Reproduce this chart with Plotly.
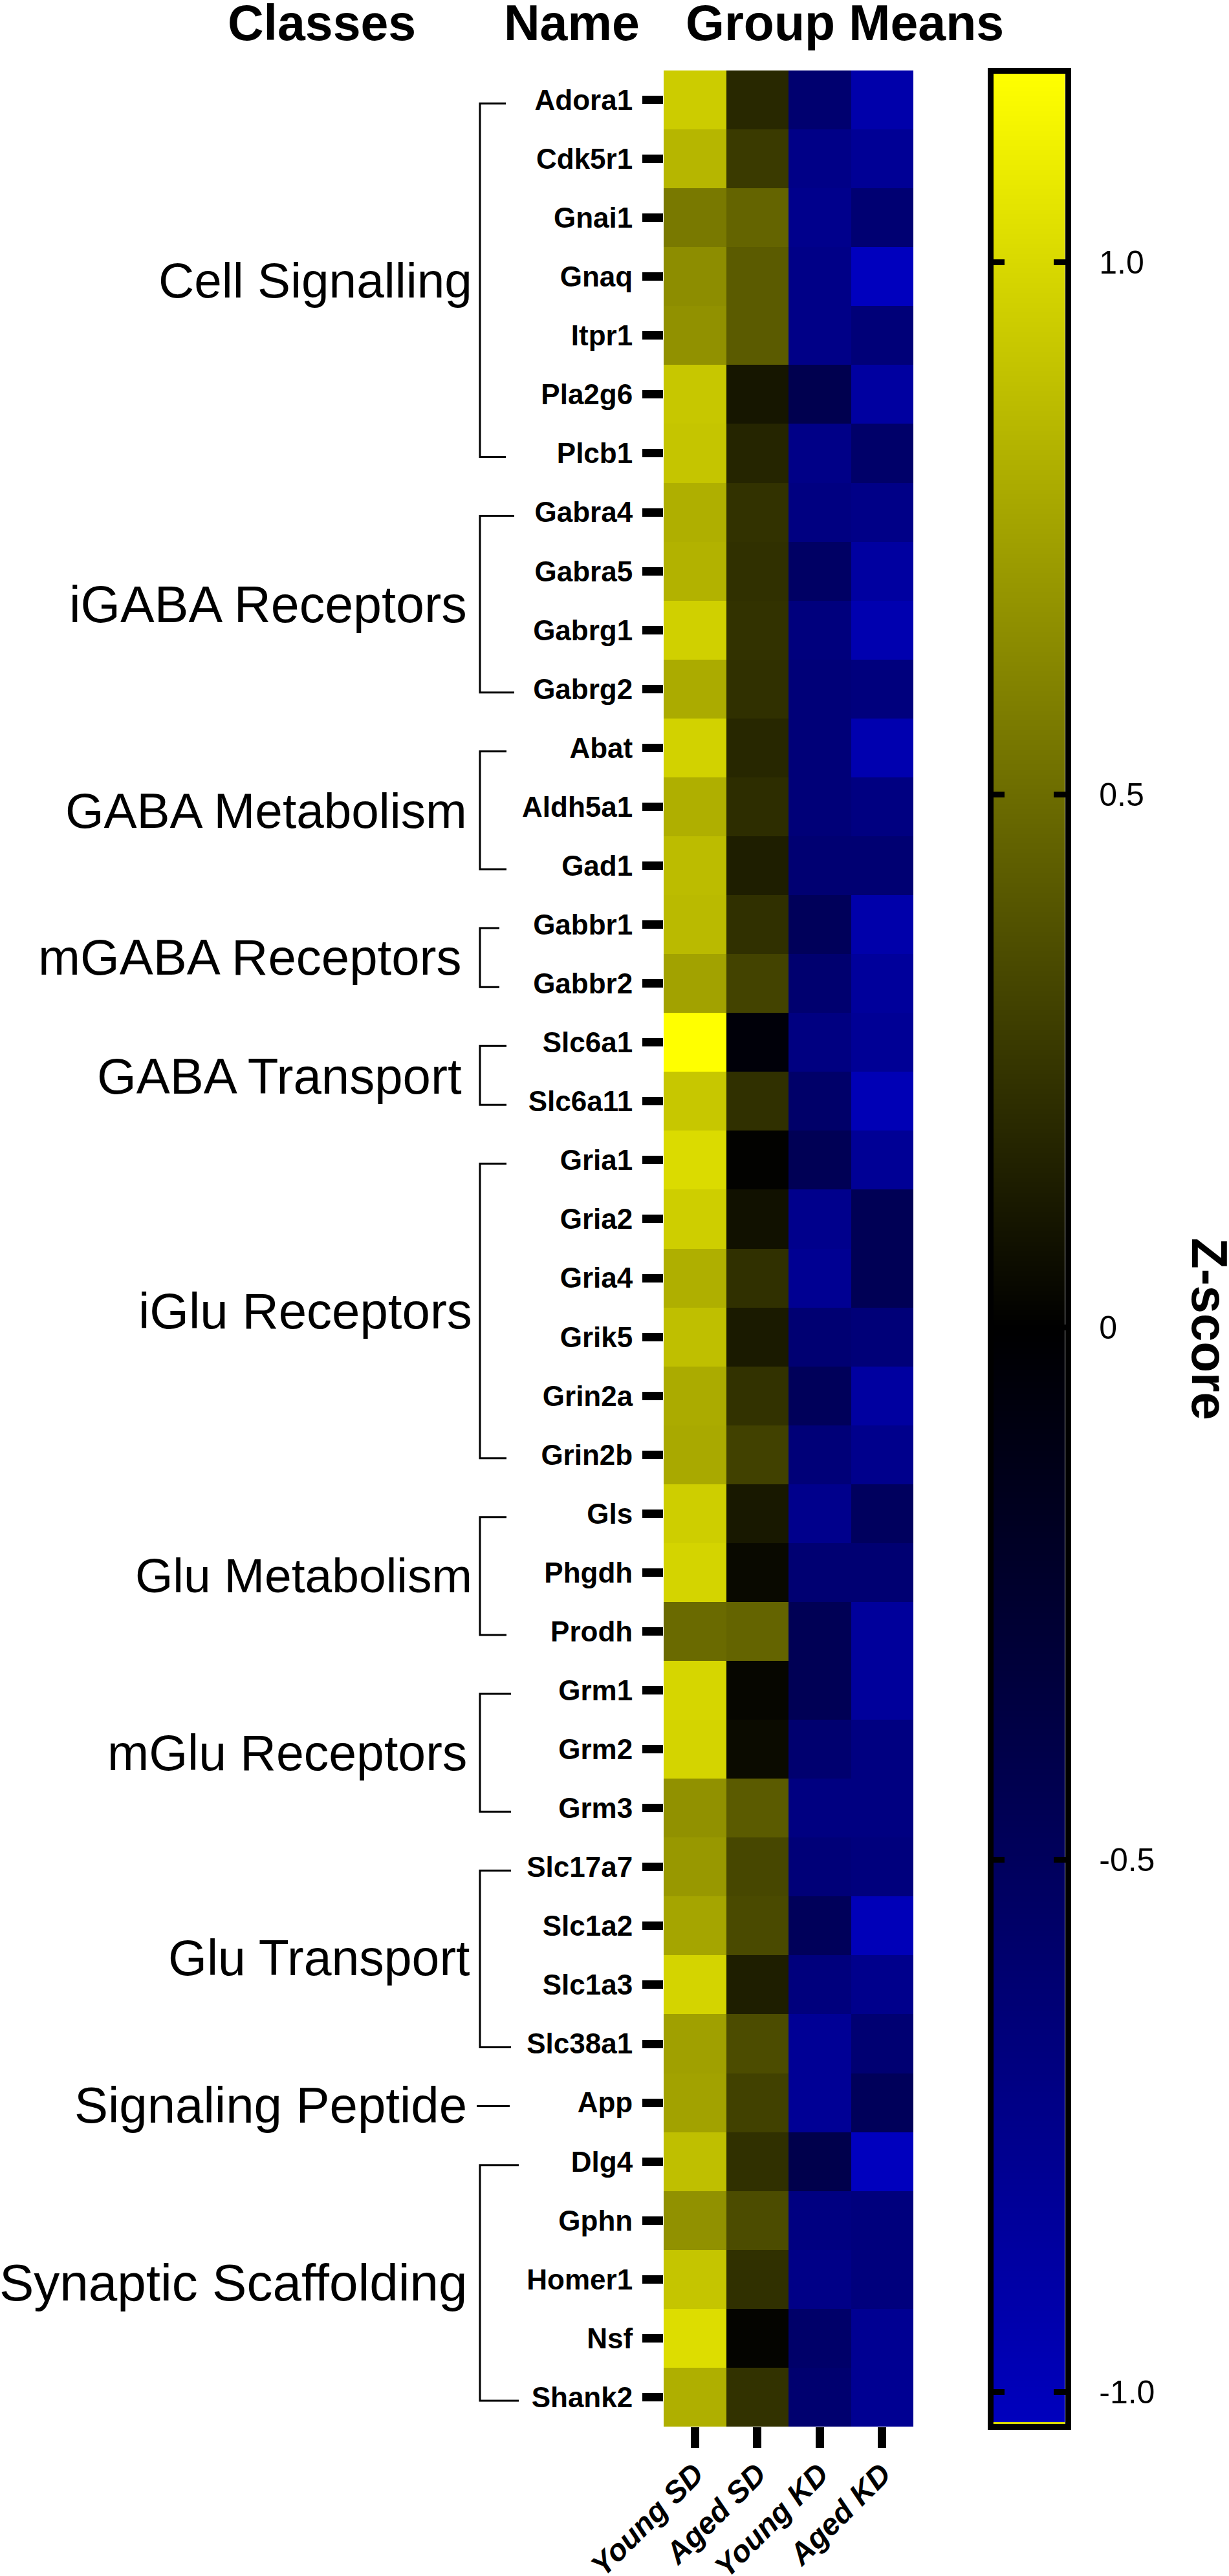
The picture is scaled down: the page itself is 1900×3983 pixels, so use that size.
import plotly.graph_objects as go

# =============================================
# Data
# =============================================
genes = ['Adora1', 'Cdk5r1', 'Gnai1', 'Gnaq', 'Itpr1', 'Pla2g6', 'Plcb1',
         'Gabra4', 'Gabra5', 'Gabrg1', 'Gabrg2',
         'Abat', 'Aldh5a1', 'Gad1',
         'Gabbr1', 'Gabbr2',
         'Slc6a1', 'Slc6a11',
         'Gria1', 'Gria2', 'Gria4', 'Grik5', 'Grin2a', 'Grin2b',
         'Gls', 'Phgdh', 'Prodh',
         'Grm1', 'Grm2', 'Grm3',
         'Slc17a7', 'Slc1a2', 'Slc1a3', 'Slc38a1',
         'App',
         'Dlg4', 'Gphn', 'Homer1', 'Nsf', 'Shank2']
groups = ['Young SD', 'Aged SD', 'Young KD', 'Aged KD']

young_sd = [0.94, 0.84, 0.56, 0.65, 0.67, 0.92, 0.91,
            0.81, 0.82, 0.96, 0.79,
            0.97, 0.81, 0.87,
            0.86, 0.75,
            1.177, 0.92,
            1.01, 0.95, 0.81, 0.88, 0.79, 0.78,
            0.95, 0.98, 0.49,
            0.99, 0.98, 0.67,
            0.70, 0.76, 0.98, 0.74,
            0.75,
            0.88, 0.67, 0.91, 1.02, 0.81]
aged_sd = [0.185, 0.27, 0.46, 0.42, 0.42, 0.10, 0.17,
           0.23, 0.22, 0.23, 0.22,
           0.18, 0.21, 0.14,
           0.22, 0.31,
           -0.05, 0.22,
           0.01, 0.08, 0.22, 0.12, 0.23, 0.30,
           0.11, 0.04, 0.46,
           0.03, 0.05, 0.42,
           0.33, 0.34, 0.14, 0.35,
           0.30,
           0.22, 0.35, 0.22, 0.02, 0.23]
young_kd = [-0.60, -0.73, -0.76, -0.73, -0.73, -0.43, -0.73,
            -0.70, -0.54, -0.68, -0.65,
            -0.65, -0.65, -0.62,
            -0.49, -0.60,
            -0.70, -0.57,
            -0.46, -0.76, -0.79, -0.62, -0.49, -0.65,
            -0.76, -0.62, -0.46,
            -0.46, -0.60, -0.70,
            -0.65, -0.49, -0.68, -0.81,
            -0.81,
            -0.41, -0.70, -0.73, -0.57, -0.60]
aged_kd = [-0.92, -0.81, -0.62, -1.03, -0.65, -0.87, -0.57,
           -0.73, -0.87, -0.95, -0.68,
           -0.95, -0.70, -0.62,
           -0.92, -0.84,
           -0.81, -0.98,
           -0.81, -0.46, -0.46, -0.65, -0.87, -0.76,
           -0.51, -0.62, -0.84,
           -0.84, -0.70, -0.70,
           -0.68, -1.00, -0.76, -0.62,
           -0.49,
           -1.03, -0.68, -0.68, -0.79, -0.79]

classes = ['Cell Signalling', 'iGABA Receptors', 'GABA Metabolism', 'mGABA Receptors',
           'GABA Transport', 'iGlu Receptors', 'Glu Metabolism', 'mGlu Receptors',
           'Glu Transport', 'Signaling Peptide', 'Synaptic Scaffolding']
class_first = ['Adora1', 'Gabra4', 'Abat', 'Gabbr1', 'Slc6a1', 'Gria1', 'Gls', 'Grm1', 'Slc17a7', 'App', 'Dlg4']
class_last = ['Plcb1', 'Gabrg2', 'Gad1', 'Gabbr2', 'Slc6a11', 'Grin2b', 'Prodh', 'Grm3', 'Slc38a1', 'App', 'Shank2']

scale_min = -1.03
scale_max = 1.177
scale_ticks = [-1.0, -0.5, 0, 0.5, 1.0]
scale_labels = ['-1.0', '-0.5', '0', '0.5', '1.0']

# =============================================
# Page layout, in pixels of the picture
# =============================================
W, H = 1900, 3983
FONT = 'Liberation Sans'
class_right = [732, 724, 724, 716, 716, 732, 732, 724, 728, 724, 724]
class_base = [459, 960, 1279, 1506, 1690, 2053, 2462, 2736, 3053, 3281, 3555]
class_size = [76.5, 79, 76.5, 78, 78, 78, 75, 77, 77, 78, 80]
bracket_right = [782, 795, 783, 772, 783, 783, 783, 790, 790, 788, 802]
BRACKET_X = 742
BRACKET_SHIFT = 0.06  # brackets sit a little under the row centres


def px(x):
    return x / W


def py(y):
    return 1 - y / H


rows = list(range(len(genes)))
colorscale = [[0, 'rgb(0,0,190)'],
              [-scale_min / (scale_max - scale_min), 'rgb(0,0,0)'],
              [1, 'rgb(255,255,0)']]

fig = go.Figure()

# Heatmap of group means
fig.add_trace(go.Heatmap(
    z=[list(r) for r in zip(young_sd, aged_sd, young_kd, aged_kd)],
    x=list(range(len(groups))),
    y=rows,
    zmin=scale_min, zmax=scale_max,
    colorscale=colorscale,
    showscale=False,
    xaxis='x', yaxis='y'
))

# Scale bar, same colours on its own axes
fig.add_trace(go.Heatmap(
    z=[[scale_min, scale_min], [0, 0], [scale_max, scale_max]],
    x=[0, 1],
    y=[scale_min, 0, scale_max],
    zmin=scale_min, zmax=scale_max,
    zsmooth='best',
    colorscale=colorscale,
    showscale=False,
    hoverinfo='skip',
    xaxis='x2', yaxis='y2'
))

# Brackets and class names
shapes = []
annotations = []
for name, first, last, right, base, size, end in zip(classes, class_first, class_last, class_right,
                                                     class_base, class_size, bracket_right):
    top = genes.index(first) + BRACKET_SHIFT
    bottom = genes.index(last) + BRACKET_SHIFT
    if first == last:
        path = f'M {px(BRACKET_X - 5)},{top} L {px(end)},{top}'
    else:
        path = (f'M {px(end)},{top} L {px(BRACKET_X)},{top} '
                f'L {px(BRACKET_X)},{bottom} L {px(end)},{bottom}')
    shapes.append(dict(type='path', path=path, xref='paper', yref='y',
                       line=dict(color='black', width=3), layer='above'))
    annotations.append(dict(text=name, xref='paper', yref='paper',
                            x=px(right), y=py(base - 26),
                            xanchor='right', yanchor='middle', showarrow=False,
                            font=dict(family=FONT, size=size, color='black')))

# Thin yellow line at the foot of the scale bar
shapes.append(dict(type='rect', xref='x2', yref='y2', x0=0, x1=1,
                   y0=scale_min, y1=scale_min + 0.0018,
                   fillcolor='rgb(215,215,0)', line=dict(width=0), layer='above'))

# Column headers
for text, x in [('Classes', 497), ('Name', 884), ('Group Means', 1306)]:
    annotations.append(dict(text=text, xref='paper', yref='paper',
                            x=px(x), y=py(35), xanchor='center', yanchor='middle',
                            showarrow=False,
                            font=dict(family=FONT, size=77, color='black', weight='bold')))

annotations.append(dict(text='Z-score', xref='paper', yref='paper',
                        x=px(1870), y=py(2055), xanchor='center', yanchor='middle',
                        textangle=90, showarrow=False,
                        font=dict(family=FONT, size=78, color='black', weight='bold')))

fig.update_layout(
    width=W, height=H,
    margin=dict(l=0, r=0, t=0, b=0, autoexpand=False),
    paper_bgcolor='white', plot_bgcolor='white',
    shapes=shapes,
    annotations=annotations,
    xaxis=dict(
        domain=[px(1026), px(1412)],
        range=[-0.5, len(groups) - 0.5],
        tickvals=list(range(len(groups))),
        ticktext=groups,
        tickangle=-45,
        ticks='outside', ticklen=32, tickwidth=13, tickcolor='black',
        tickfont=dict(family=FONT, size=47, color='black', weight='bold', style='italic'),
        ticklabelstandoff=-6,
        showgrid=False, zeroline=False, showline=False, automargin=False
    ),
    yaxis=dict(
        domain=[py(3752), py(109)],
        range=[len(genes) - 0.5, -0.5],
        tickvals=rows,
        ticktext=genes,
        ticks='outside', ticklen=32, tickwidth=13, tickcolor='black',
        tickfont=dict(family=FONT, size=44, color='black', weight='bold'),
        ticklabelstandoff=6,
        showgrid=False, zeroline=False, showline=False, automargin=False
    ),
    xaxis2=dict(
        domain=[px(1535.5), px(1646.5)],
        anchor='y2',
        range=[0, 1],
        showticklabels=False, ticks='',
        showgrid=False, zeroline=False, automargin=False,
        showline=True, linewidth=8.5, linecolor='black', mirror=True
    ),
    yaxis2=dict(
        domain=[py(3748), py(114)],
        anchor='x2',
        side='right',
        range=[scale_min, scale_max],
        tickvals=scale_ticks,
        ticktext=scale_labels,
        ticks='inside', ticklen=18, tickwidth=8.5, tickcolor='black',
        tickfont=dict(family=FONT, size=50, color='black'),
        ticklabelstandoff=34,
        showgrid=False, zeroline=False, automargin=False,
        showline=True, linewidth=8.5, linecolor='black', mirror='allticks'
    )
)

# the page's default body margin would push the figure 8 px off
fig.write_html("out.html", config=dict(displayModeBar=False),
               post_script="document.body.style.margin = '0';")
